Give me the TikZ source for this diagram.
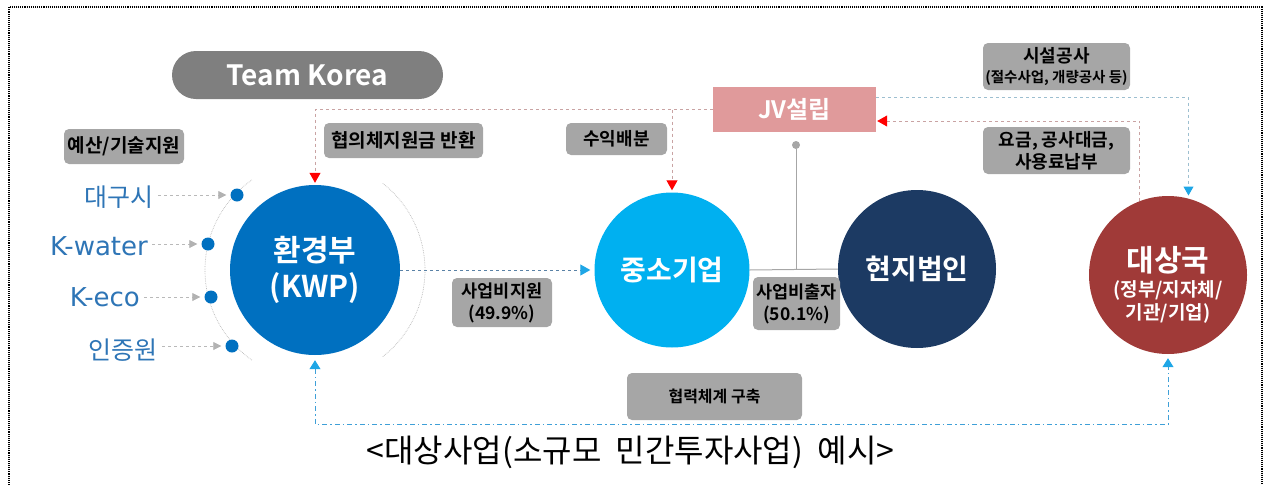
\documentclass[tikz,border=0pt]{standalone}
\usepackage{fontspec}
\setmainfont{Noto Sans CJK KR}[BoldFont={Noto Sans CJK KR Bold}]
\newfontfamily\latinlbl{DejaVu Sans}
\usetikzlibrary{arrows.meta,calc}
\definecolor{kwpblue}{HTML}{0070C0}
\definecolor{smeblue}{HTML}{00B0F0}
\definecolor{navy}{HTML}{1C3A63}
\definecolor{darkred}{HTML}{A03A38}
\definecolor{jvpink}{HTML}{E09A9B}
\definecolor{pillgray}{HTML}{7F7F7F}
\definecolor{boxgray}{HTML}{A6A6A6}
\definecolor{lblblue}{HTML}{2E75B6}
\definecolor{redln}{HTML}{C9A3A3}
\definecolor{cyanln}{HTML}{9DBFD0}
\definecolor{tipcyan}{HTML}{1EA6E6}
\definecolor{blueln}{HTML}{5A82A6}
\definecolor{bottomln}{HTML}{3FA0D8}
\tikzset{
  circ/.style={circle, inner sep=0pt, text=white, font=\bfseries, align=center},
  lbox/.style={rounded corners=5pt, fill=boxgray, inner sep=0pt, align=center, text=black},
  lbl/.style={text=lblblue, inner sep=2pt, font=\fontsize{25}{28}\selectfont},
  latlbl/.style={text=lblblue, inner sep=2pt, font=\latinlbl\fontsize{26}{28}\selectfont},
  kdot/.style={circle, fill=kwpblue, minimum size=13pt, inner sep=0pt},
  gdot/.style={circle, fill=gray!70, minimum size=8pt, inner sep=0pt},
  grayarrow/.style={draw=gray!55, dashed, line width=0.8pt, shorten >=4pt, shorten <=2pt,
     -{Triangle[length=8pt,width=8pt,color=gray!60]}},
  redtip/.style={-{Triangle[length=10pt,width=11pt,color=red]}},
  redpath/.style={draw=redln, dashed, line width=1pt},
  cyanpath/.style={draw=cyanln, dashed, line width=1pt},
  ringarc/.style={draw=gray!55, densely dotted, line width=0.7pt},
  grayline/.style={draw=gray!70, line width=1pt},
}
\begin{document}
\begin{tikzpicture}[x=1pt,y=-1pt]
\useasboundingbox (0,0) rectangle (1264,485);
\draw[densely dotted, line width=1.1pt] (9,485) -- (9,7) -- (1262,7) -- (1262,485);

% circles
\node[circ, fill=kwpblue, minimum size=170pt, font=\bfseries\fontsize{30}{36}\selectfont] (kwp) at (315,270) {환경부\\(KWP)};
\node[circ, fill=smeblue, minimum size=155pt, font=\bfseries\fontsize{28}{32}\selectfont] (szb) at (672,270) {중소기업};
\node[circ, fill=navy, minimum size=158pt, font=\bfseries\fontsize{28}{32}\selectfont] (hj) at (917,269) {현지법인};
\node[circ, fill=darkred, minimum size=158pt, font=\bfseries\fontsize{30}{34}\selectfont] (dsg) at (1168,275) {\rule{0pt}{44pt}대상국\\[-9pt]\fontsize{19}{24}\selectfont (정부/지자체/\\[-11pt]\fontsize{19}{24}\selectfont 기관/기업)};

% ring around KWP
\draw[ringarc] (kwp.center) ++(125:110) arc (125:235:110);
\draw[ringarc] (kwp.center) ++(-52:110) arc (-52:52:110);

% team korea pill
\node[fill=pillgray, rounded corners=24pt, minimum width=271pt, minimum height=48pt, text=white, font=\bfseries\fontsize{28}{30}\selectfont] (tk) at (307.5,75) {Team Korea};

% JV box
\node[fill=jvpink, minimum width=163pt, minimum height=45pt, inner sep=0pt, text=white, font=\bfseries\fontsize{24}{28}\selectfont] (jv) at (794.5,109.5) {JV설립};

% label boxes
\node[lbox, minimum width=120pt, minimum height=35pt, font=\bfseries\fontsize{19}{22}\selectfont] (b1) at (124,146.5) {예산/기술지원};
\node[lbox, minimum width=159pt, minimum height=35pt, font=\bfseries\fontsize{19}{22}\selectfont] (b2) at (403.5,140.5) {협의체지원금 반환};
\node[lbox, minimum width=101pt, minimum height=32pt, font=\bfseries\fontsize{18}{22}\selectfont] (b3) at (616.5,139) {수익배분};
\node[lbox, minimum width=100pt, minimum height=49pt, font=\bfseries\fontsize{17.5}{22}\selectfont] (b4) at (502,302.5) {사업비지원\\(49.9\%)};
\node[lbox, minimum width=87pt, minimum height=53pt, font=\bfseries\fontsize{17.5}{22}\selectfont] (b5) at (796.5,303.5) {사업비출자\\(50.1\%)};
\node[lbox, minimum width=147pt, minimum height=47pt, font=\bfseries\fontsize{18}{20}\selectfont] (b6) at (1056.5,66.5) {시설공사\\\fontsize{14.5}{18}\selectfont (절수사업, 개량공사 등)};
\node[lbox, minimum width=147pt, minimum height=47pt, font=\bfseries\fontsize{18}{22}\selectfont] (b7) at (1056.5,150.5) {요금, 공사대금,\\사용료납부};
\node[lbox, minimum width=175pt, minimum height=47pt, font=\bfseries\fontsize{16}{20}\selectfont] (b8) at (714.5,396.5) {협력체계 구축};

% left labels and dots
\node[lbl, anchor=east] (l1) at (156,197) {대구시};
\node[latlbl, anchor=east] (l2) at (150,246) {K-water};
\node[latlbl, anchor=east] (l3) at (142,297) {K-eco};
\node[lbl, anchor=east] (l4) at (160,350) {인증원};
\node[kdot] (d1) at (237,195) {};
\node[kdot] (d2) at (208,244) {};
\node[kdot] (d3) at (211,297) {};
\node[kdot] (d4) at (232,346) {};
\draw[grayarrow] (l1.east |- d1) -- (d1.west);
\draw[grayarrow] (l2.east |- d2) -- (d2.west);
\draw[grayarrow] (l3.east |- d3) -- (d3.west);
\draw[grayarrow] (l4.east |- d4) -- (d4.west);

% helper coordinates
\coordinate (y97) at (0,97);
\coordinate (y121) at (0,121);
\coordinate (y424) at (0,424);

% red dashed from JV to KWP and SME
\draw[redpath, redtip, shorten >=2pt] (jv.west) -| (kwp.north);
\draw[redpath, redtip, shorten >=2pt] (szb.north |- jv.west) -- (szb.north);
% red dashed from target country to JV
\draw[redpath, redtip, shorten >=1pt] (dsg.111) |- (jv.east |- y121);
% cyan dashed from JV to target country
\draw[cyanpath, -{Triangle[length=9pt,width=10pt,color=tipcyan]}, shorten >=3pt] (jv.east |- y97) -| (dsg.75);

% KWP to SME
\draw[draw=blueln, dashed, line width=1pt, -{Triangle[length=10pt,width=11pt,color=tipcyan]}, shorten >=4pt] (kwp.east) -- (szb.west);

% gray solid connectors
\node[gdot] (jvd) at (796,145) {};
\draw[grayline] (szb.east) -- (hj.west);
\draw[grayline] (jvd) -- (jvd |- szb.east);

% bottom cooperation line
\draw[draw=bottomln, dash pattern=on 5pt off 3pt on 1.5pt off 3pt, line width=1pt,
  {Triangle[length=9pt,width=11pt,color=tipcyan]}-{Triangle[length=9pt,width=11pt,color=tipcyan]},
  shorten <=5pt, shorten >=4pt]
  (kwp.south) -- (kwp.south |- y424) -- (dsg.south |- y424) -- (dsg.south);

% caption
\node[font=\fontsize{32}{36}\selectfont, inner sep=0pt] (cap) at (630.5,452) {<대상사업(소규모\ \ 민간투자사업)\ \ 예시>};
\end{tikzpicture}
\end{document}
